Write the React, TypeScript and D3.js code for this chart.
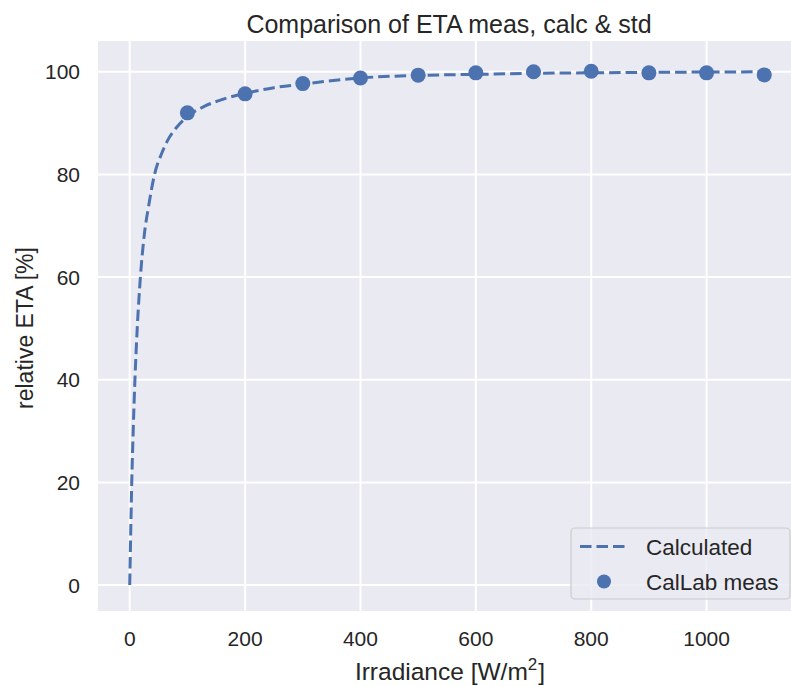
import React from "react";
import * as d3 from "d3";

const calcX = [0, 1.5, 3.5, 6, 9, 13, 18.5, 25, 33, 43, 55, 65, 80, 100, 130, 160, 200, 250, 300, 400, 500, 600, 700, 800, 900, 1000, 1100];
const calcY = [0, 9, 20, 30, 40, 50, 60, 68, 74, 80, 84, 86.5, 89, 91.3, 93.3, 94.6, 95.8, 96.9, 97.6, 98.8, 99.3, 99.5, 99.7, 99.8, 99.9, 99.95, 100];

const measX = [100, 200, 300, 400, 500, 600, 700, 800, 900, 1000, 1100];
const measY = [92.0, 95.7, 97.7, 98.8, 99.35, 99.8, 100.0, 100.1, 99.8, 99.8, 99.4];

const xTicks = [0, 200, 400, 600, 800, 1000];
const yTicks = [0, 20, 40, 60, 80, 100];

const W = 791, H = 686;
const plot = { left: 98, right: 796, top: 41, bottom: 611 };
const BLUE = "#4C72B0";
const TXT = "#262626";
const FONT = "'Liberation Sans', Arial, sans-serif";

export default function App() {
  const x = d3.scaleLinear().domain([-55, 1155]).range([plot.left, plot.right]);
  const y = d3.scaleLinear().domain([-5.05, 106]).range([plot.bottom, plot.top]);
  const line = d3
    .line<number>()
    .x((_, i) => x(calcX[i]))
    .y((d) => y(d))
    .curve(d3.curveMonotoneX);
  const pw = plot.right - plot.left;
  const ph = plot.bottom - plot.top;
  return (
    <svg width={W} height={H} style={{ position: "absolute", left: 0, top: 0, background: "#fff" }} fontFamily={FONT}>
      <defs>
        <clipPath id="pc">
          <rect x={plot.left} y={plot.top} width={pw} height={ph} />
        </clipPath>
      </defs>
      <rect x={plot.left} y={plot.top} width={pw} height={ph} fill="#EAEAF2" />
      {xTicks.map((t) => (
        <line key={"gx" + t} x1={x(t)} x2={x(t)} y1={plot.top} y2={plot.bottom} stroke="#fff" strokeWidth={2} />
      ))}
      {yTicks.map((t) => (
        <line key={"gy" + t} x1={plot.left} x2={plot.right} y1={y(t)} y2={y(t)} stroke="#fff" strokeWidth={2} />
      ))}
      <g clipPath="url(#pc)">
        <path d={line(calcY) || ""} fill="none" stroke={BLUE} strokeWidth={3} strokeDasharray="11.5,5" />
        {measX.map((v, i) => (
          <circle key={"m" + i} cx={x(v)} cy={y(measY[i])} r={7.5} fill={BLUE} />
        ))}
      </g>
      {xTicks.map((t) => (
        <text key={"tx" + t} x={x(t)} y={646} textAnchor="middle" fontSize={21} fill={TXT}>
          {t}
        </text>
      ))}
      {yTicks.map((t) => (
        <text key={"ty" + t} x={80} y={y(t) + 7.5} textAnchor="end" fontSize={21} fill={TXT}>
          {t}
        </text>
      ))}
      <text x={449} y={33} textAnchor="middle" fontSize={25} fill={TXT}>
        Comparison of ETA meas, calc &amp; std
      </text>
      <text x={450} y={680} textAnchor="middle" fontSize={24.5} fill={TXT}>
        Irradiance [W/m<tspan dy={-10} fontSize={17}>2</tspan>
        <tspan dy={10} dx={1}>]</tspan>
      </text>
      <text transform={`translate(33,${(plot.top + plot.bottom) / 2 + 2}) rotate(-90)`} textAnchor="middle" fontSize={23} fill={TXT}>
        relative ETA [%]
      </text>
      <g>
        <rect x={571} y={528} width={219} height={71} rx={4} fill="#EAEAF2" fillOpacity={0.8} stroke="#cccccc" strokeWidth={1.2} />
        <line x1={580} x2={627} y1={546.5} y2={546.5} stroke={BLUE} strokeWidth={3} strokeDasharray="11.5,5" />
        <circle cx={604} cy={581.5} r={7} fill={BLUE} />
        <text x={646} y={554.5} fontSize={22.5} fill={TXT}>Calculated</text>
        <text x={646} y={589.5} fontSize={22.5} fill={TXT}>CalLab meas</text>
      </g>
    </svg>
  );
}
